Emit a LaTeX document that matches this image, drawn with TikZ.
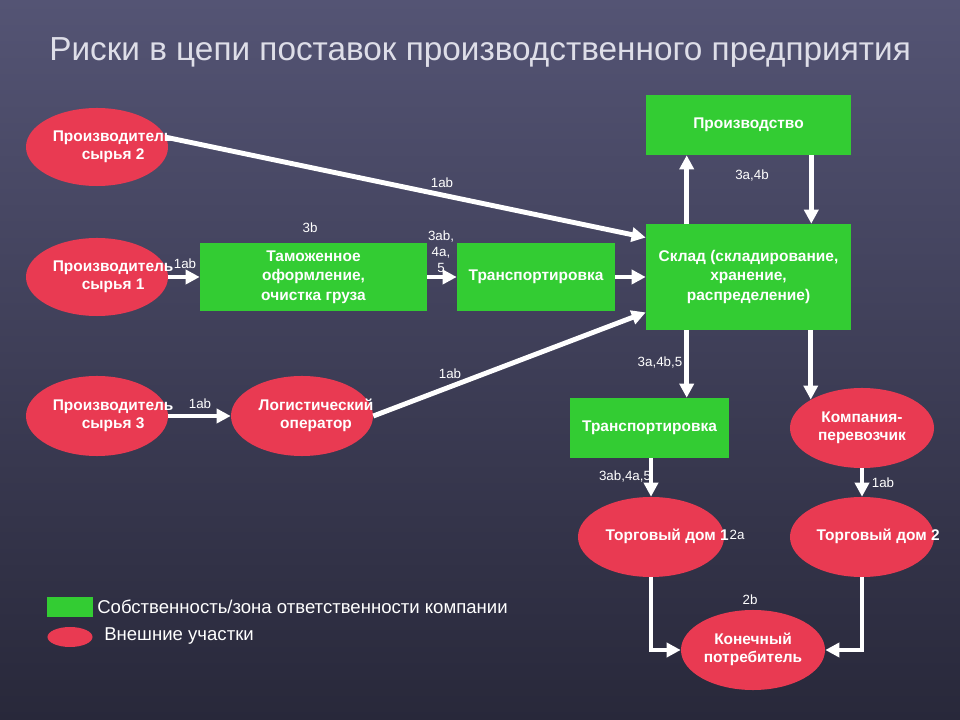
\documentclass[tikz,border=0pt]{standalone}
\usepackage{fontspec}
\setmainfont{Liberation Sans}
\usetikzlibrary{shapes.geometric,arrows.meta}
\definecolor{hgreen}{RGB}{51,204,51}
\definecolor{hred}{RGB}{233,58,82}
\definecolor{hbgtop}{RGB}{84,84,116}
\definecolor{hbgbot}{RGB}{40,40,58}
\definecolor{htitle}{RGB}{222,222,232}
\newcommand{\eltx}[2][0pt]{\makebox[0pt]{\hspace*{#1}\begin{tabular}{@{}c@{}}#2\end{tabular}}}
\tikzset{
  own/.style={rectangle, fill=hgreen, inner sep=0pt, text=white, align=center, font=\bfseries\fontsize{11}{14}\selectfont},
  ext/.style={ellipse, fill=hred, inner sep=0pt, text=white, font=\bfseries\fontsize{11}{13}\selectfont},
  flow/.style={white, line width=3.5pt, -{Triangle[length=10pt,width=10pt]}},
  risk/.style={text=white, font=\fontsize{9.5}{11.5}\selectfont, inner sep=0pt, align=center},
  keytx/.style={anchor=west, text=white, inner sep=0pt, font=\fontsize{13.2}{15}\selectfont}
}

\begin{document}
\begin{tikzpicture}[x=0.025cm, y=-0.025cm]
\useasboundingbox (0,0) rectangle (960,720);
\fill[top color=hbgtop, bottom color=hbgbot] (0,0) rectangle (960,720);
\node[text=htitle, font=\fontsize{23.7}{28}\selectfont] (title) at (480,52) {Риски в цепи поставок производственного предприятия};

\node[ext, minimum width=3.55cm, minimum height=1.95cm] (p2) at (97,147) {\eltx[23pt]{Производитель\\сырья 2}};
\node[ext, minimum width=3.55cm, minimum height=1.95cm] (p1) at (97,277) {\eltx[23pt]{Производитель\\сырья 1}};
\node[ext, minimum width=3.55cm, minimum height=2cm] (p3) at (97,416) {\eltx[23pt]{Производитель\\сырья 3}};
\node[ext, minimum width=3.55cm, minimum height=2cm] (oper) at (302,416) {\eltx[20pt]{Логистический\\оператор}};
\node[own, minimum width=5.675cm, minimum height=1.7cm] (tam) at (313.5,277) {Таможенное\\оформление,\\очистка груза};
\node[own, minimum width=3.95cm, minimum height=1.7cm] (tr1) at (536,277) {Транспортировка};
\node[own, minimum width=5.125cm, minimum height=2.65cm] (sklad) at (748.5,277) {Склад (складирование,\\хранение,\\распределение)};
\node[own, minimum width=5.125cm, minimum height=1.5cm] (prod) at (748.5,125) {Производство};
\node[own, minimum width=3.975cm, minimum height=1.5cm] (tr2) at (649.5,428) {Транспортировка};
\node[ext, minimum width=3.6cm, minimum height=2cm] (komp) at (862,428) {\eltx{Компания-\\перевозчик}};
\node[ext, minimum width=3.65cm, minimum height=2cm] (td1) at (651,537) {\eltx[23pt]{Торговый дом 1}};
\node[ext, minimum width=3.6cm, minimum height=2cm] (td2) at (862,537) {\eltx[23pt]{Торговый дом 2}};
\node[ext, minimum width=3.6cm, minimum height=2cm] (kon) at (753,650) {\eltx{Конечный\\потребитель}};

\node[risk] (r1) at (442,183) {1ab};
\node[risk] (r2) at (310,228) {3b};
\node[risk] (r3) at (185,264) {1ab};
\node[risk] (r4) at (441,252) {3ab,\\4a,\\5};
\node[risk] (r5) at (200,404) {1ab};
\node[risk] (r6) at (450,374) {1ab};
\node[risk] (r7) at (752,176) {3a,4b};
\node[risk] (r8) at (660,363) {3a,4b,5};
\node[risk] (r9) at (625,477) {3ab,4a,5};
\node[risk] (r10) at (883,483) {1ab};
\node[risk] (r11) at (737,535) {2a};
\node[risk] (r12) at (750,600) {2b};

\draw[flow] (p2.8) -- (sklad.159);
\draw[flow] (p1) -- (tam);
\draw[flow] (tam) -- (tr1);
\draw[flow] (tr1) -- (sklad);
\draw[flow] (p3) -- (oper);
\draw[flow] (oper.east) -- (sklad.199);
\draw[flow] ([xshift=1.025cm]sklad.north west) -- ([xshift=1.025cm]prod.south west);
\draw[flow] ([xshift=-1cm]prod.south east) -- ([xshift=-1cm]sklad.north east);
\draw[flow] ([xshift=1.025cm]sklad.south west) -- ([xshift=1.025cm]sklad.south west |- tr2.north);
\draw[flow] (sklad.south -| komp.151) -- (komp.151);
\draw[flow] (tr2.south -| td1) -- (td1);
\draw[flow] (komp) -- (td2);
\draw[flow] (td1.south) |- (kon.west);
\draw[flow] (td2.south) |- (kon.east);

\node[own, minimum width=1.125cm, minimum height=0.5cm] (keyown) at (70,607) {};
\node[ext, minimum width=1.125cm, minimum height=0.5cm] (keyext) at (70,637) {};
\node[keytx] (keyowntx) at (97,607) {Собственность/зона ответственности компании};
\node[keytx] (keyexttx) at (104,636) {Внешние участки};
\end{tikzpicture}
\end{document}
